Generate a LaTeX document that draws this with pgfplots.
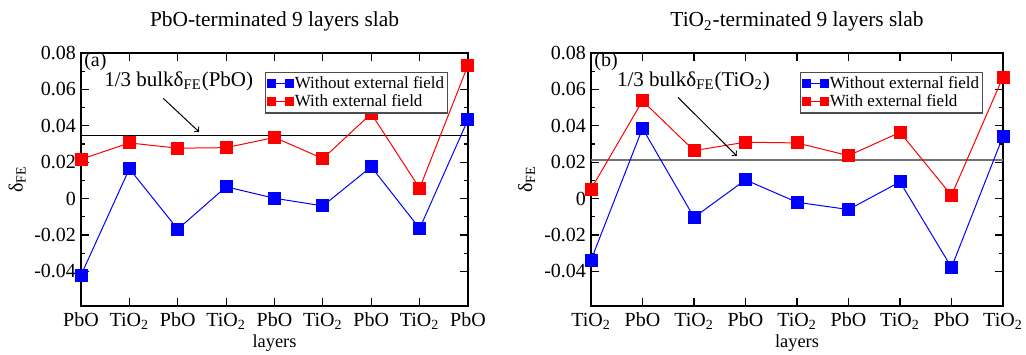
\documentclass[border=0pt]{standalone}
\usepackage{fontspec}
\setmainfont{Liberation Serif}
\usepackage{pgfplots}
\pgfplotsset{compat=1.18}
\begin{document}
\begin{tikzpicture}
\pgfplotsset{
 myaxis/.style={
  scale only axis, height=126.5pt,
  xmin=0, xmax=8, ymin=-0.059, ymax=0.08,
  xtick={0,...,8},
  ytick={-0.04,-0.02,0,0.02,0.04,0.06,0.08},
  minor y tick num=1,
  tick align=inside,
  major tick length=4pt, minor tick length=2.2pt,
  axis line style={line width=0.8pt},
  every tick/.style={black, line width=0.6pt},
  scaled y ticks=false,
  yticklabel style={/pgf/number format/fixed, /pgf/number format/precision=2, /pgf/number format/assume math mode=true, xshift=1pt},
  tick label style={font=\fontsize{10}{12}\selectfont},
  xlabel={layers}, ylabel={δ\textsubscript{FE}},
  xlabel style={font=\fontsize{9.2}{11}\selectfont, at={(axis description cs:0.5,0)}, yshift=-18.5pt, anchor=center},
  ylabel style={font=\fontsize{10}{12}\selectfont},
  clip=false,
  legend style={at={(1,1)}, anchor=north east, xshift=-10pt, yshift=-9.5pt, draw=black!70, line width=0.6pt,
    font=\fontsize{8.5}{9}\selectfont, inner sep=1pt, row sep=0pt,
    nodes={inner sep=0.6pt, text height=6.2pt, text depth=1.7pt}},
  legend cell align=left,
  legend image code/.code={\draw[line width=0.5pt, #1, mark size=2pt, mark repeat=1] plot coordinates {(1pt,0pt) (10pt,0pt)};},
  bl/.style={blue, line width=0.5pt, mark=square*, mark size=3pt},
  rd/.style={red, line width=0.5pt, mark=square*, mark size=3pt},
 }
}
\useasboundingbox (0,0) rectangle (513pt,177pt);
\node[anchor=base, font=\fontsize{10.7}{12}\selectfont] at (137.25pt,163.5pt) {PbO-terminated 9 layers slab};
\node[anchor=base, font=\fontsize{10.7}{12}\selectfont] at (398.5pt,163.5pt) {TiO\textsubscript{2}-terminated 9 layers slab};

\begin{axis}[myaxis, width=193.5pt, at={(40.5pt,24pt)}, anchor=south west,
  xticklabels={PbO,TiO\textsubscript{2},PbO,TiO\textsubscript{2},PbO,TiO\textsubscript{2},PbO,TiO\textsubscript{2},PbO},
  ylabel style={at={(axis description cs:-0.165,0.5)}, anchor=center}]
\addplot[black, line width=0.5pt, forget plot] coordinates {(0,0.0349) (8,0.0349)};
\addplot[bl] coordinates {(0,-0.0421) (1,0.0164) (2,-0.0168) (3,0.0065) (4,0.0002) (5,-0.0040) (6,0.0175) (7,-0.0164) (8,0.0434)};
\addlegendentry{Without external field}
\addplot[rd] coordinates {(0,0.0216) (1,0.0306) (2,0.0277) (3,0.0280) (4,0.0336) (5,0.0220) (6,0.0467) (7,0.0057) (8,0.0733)};
\addlegendentry{With external field}
\node[anchor=west, inner sep=0pt, font=\fontsize{10}{12}\selectfont] at (axis cs:0.06,0.0752) {(a)};
\node[anchor=base, inner sep=0pt, font=\fontsize{10.5}{12}\selectfont] at (axis cs:2.02,0.0616) {1/3 bulkδ\textsubscript{FE}(PbO)};
\draw[->, line width=0.5pt] (axis cs:1.70,0.0551) -- (axis cs:2.44,0.0367);
\end{axis}

\begin{axis}[myaxis, width=206pt, at={(295.5pt,24pt)}, anchor=south west,
  xticklabels={TiO\textsubscript{2},PbO,TiO\textsubscript{2},PbO,TiO\textsubscript{2},PbO,TiO\textsubscript{2},PbO,TiO\textsubscript{2}},
  ylabel style={at={(axis description cs:-0.156,0.5)}, anchor=center}]
\addplot[black!55, line width=1.4pt, forget plot] coordinates {(0,0.0212) (8,0.0212)};
\addplot[bl] coordinates {(0,-0.0338) (1,0.0386) (2,-0.0103) (3,0.0103) (4,-0.0020) (5,-0.0060) (6,0.0092) (7,-0.0378) (8,0.0342)};
\addlegendentry{Without external field}
\addplot[rd] coordinates {(0,0.0052) (1,0.0537) (2,0.0264) (3,0.0310) (4,0.0306) (5,0.0236) (6,0.0364) (7,0.0018) (8,0.0668)};
\addlegendentry{With external field}
\node[anchor=west, inner sep=0pt, font=\fontsize{10}{12}\selectfont] at (axis cs:0.06,0.0752) {(b)};
\node[anchor=base, inner sep=0pt, font=\fontsize{10.5}{12}\selectfont] at (axis cs:1.99,0.0616) {1/3 bulkδ\textsubscript{FE}(TiO\textsubscript{2})};
\draw[->, line width=0.5pt] (axis cs:1.69,0.0556) -- (axis cs:2.83,0.0235);
\end{axis}
\end{tikzpicture}
\end{document}
